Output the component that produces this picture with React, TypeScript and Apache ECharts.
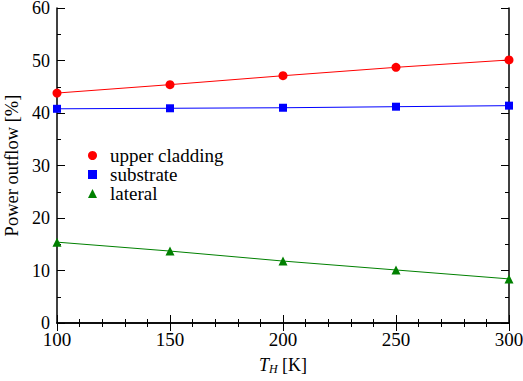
import React, { useEffect, useRef } from "react";
import * as echarts from "echarts";

const temps = [100, 150, 200, 250, 300];
const upperCladding = [43.8, 45.4, 47.1, 48.7, 50.1];
const substrate = [40.8, 40.9, 41.0, 41.2, 41.4];
const lateral = [15.4, 13.7, 11.8, 10.1, 8.4];
const seriesNames = ["upper cladding", "substrate", "lateral"];

const FONT = "Liberation Serif";

export default function App() {
  const ref = useRef<HTMLDivElement>(null);
  useEffect(() => {
    if (!ref.current) return;
    const chart = echarts.init(ref.current, undefined, { renderer: "svg" });
    const axisLine = { show: true, lineStyle: { color: "#000", width: 1.5 } };
    const xCommon = {
      type: "value" as const,
      min: 100,
      max: 300,
      interval: 50,
      axisLine,
      axisTick: { show: true, inside: true, length: 8, lineStyle: { color: "#000" } },
      minorTick: { show: true, splitNumber: 5, length: 4, lineStyle: { color: "#000" } },
      splitLine: { show: false },
    };
    const yCommon = {
      type: "value" as const,
      min: 0,
      max: 60,
      interval: 10,
      axisLine,
      axisTick: { show: true, inside: true, length: 8, lineStyle: { color: "#000" } },
      minorTick: { show: true, splitNumber: 2, length: 4, lineStyle: { color: "#000" } },
      splitLine: { show: false },
    };
    const mk = (name: string, vals: number[], color: string, symbol: string, size: number) => ({
      name,
      type: "line",
      data: temps.map((t, i) => [t, vals[i]]),
      symbol,
      symbolSize: size,
      showSymbol: true,
      itemStyle: { color },
      lineStyle: { color, width: 1 },
      xAxisIndex: 0,
      yAxisIndex: 0,
    });
    chart.setOption({
      animation: false,
      textStyle: { fontFamily: FONT },
      grid: { left: 57, right: 14, top: 8, bottom: 58, containLabel: false, outerBoundsMode: "none" },
      legend: {
        orient: "vertical",
        left: 83,
        top: 141,
        itemWidth: 9,
        itemHeight: 9,
        itemGap: 0,
        data: [
          { name: seriesNames[0], icon: "circle" },
          { name: seriesNames[1], icon: "rect" },
          { name: seriesNames[2], icon: "triangle" },
        ],
        textStyle: { fontFamily: FONT, fontSize: 19, lineHeight: 19, color: "#000", padding: [0, 0, 0, 8] },
      },
      xAxis: [
        {
          ...xCommon,
          position: "bottom",
          axisLabel: { show: true, fontFamily: FONT, fontSize: 19, color: "#000", margin: 7 },
          name: "{i|T}{s|H} [K]",
          nameLocation: "middle",
          nameGap: 32,
          nameTextStyle: {
            fontFamily: FONT,
            fontSize: 18,
            color: "#000",
            rich: {
              i: { fontFamily: FONT, fontSize: 18, fontStyle: "italic", color: "#000" },
              s: { fontFamily: FONT, fontSize: 12, fontStyle: "italic", color: "#000", verticalAlign: "bottom", padding: [8, 0, 0, 0] },
            },
          },
        },
        { ...xCommon, position: "top", axisLabel: { show: false } },
      ],
      yAxis: [
        {
          ...yCommon,
          position: "left",
          axisLabel: { show: true, fontFamily: FONT, fontSize: 18, color: "#000", margin: 7 },
          name: "Power outflow [%]",
          nameLocation: "middle",
          nameGap: 29,
          nameTextStyle: { fontFamily: FONT, fontSize: 18.5, color: "#000" },
        },
        { ...yCommon, position: "right", axisLabel: { show: false } },
      ],
      series: [
        mk(seriesNames[0], upperCladding, "#ff0000", "circle", 9),
        mk(seriesNames[1], substrate, "#0000ff", "rect", 8),
        mk(seriesNames[2], lateral, "#008000", "triangle", 9),
      ],
    });
    return () => chart.dispose();
  }, []);
  return <div ref={ref} style={{ width: 523, height: 381, position: "absolute", left: 0, top: 0 }} />;
}
